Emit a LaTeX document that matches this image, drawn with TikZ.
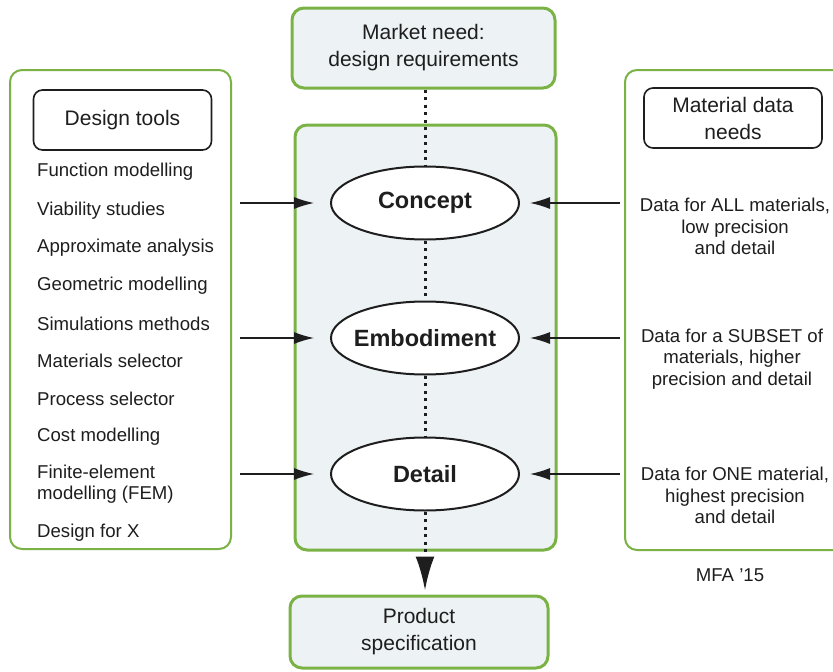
\documentclass[tikz,border=0pt]{standalone}
\usepackage{fontspec}
\setmainfont{Liberation Sans}
\usepackage{tikz}
\usetikzlibrary{arrows.meta,shapes.geometric}
\definecolor{mfagreen}{HTML}{7AB245}
\definecolor{mfapale}{HTML}{EDF2F5}
\definecolor{mfaink}{HTML}{1E1E1E}
\newcommand{\phasename}[1]{\makebox[0pt][c]{#1}}

\begin{document}
\begin{tikzpicture}[
  x=1pt, y=-1pt,
  font=\fontsize{18.6}{21.5}\selectfont, text=mfaink,
  stagebox/.style={draw=mfagreen, line width=3pt, rounded corners=12pt, fill=mfapale, inner sep=0pt},
  panel/.style={draw=mfagreen, line width=2pt, rounded corners=12pt, fill=white, inner sep=0pt},
  head/.style={draw=mfaink, line width=1.6pt, rounded corners=9pt, fill=white, align=center,
    minimum width=178pt, minimum height=60pt, inner sep=0pt, font=\fontsize{21}{27}\selectfont},
  ends/.style={stagebox, align=center, font=\fontsize{21}{27}\selectfont},
  phase/.style={ellipse, draw=mfaink, line width=2pt, fill=white, inner sep=0pt,
    minimum width=188pt, minimum height=73pt, font=\fontsize{23.5}{28}\selectfont\bfseries},
  tool/.style={anchor=west, align=left, inner sep=0pt},
  need/.style={align=center, inner sep=0pt},
  arr/.style={-{Latex[length=20pt,width=12pt]}, line width=1.3pt, draw=mfaink},
  dots/.style={line width=3pt, dash pattern=on 3pt off 4.5pt, draw=mfaink}
]
\useasboundingbox (0,0) rectangle (833,672);

% frames
\node[panel, minimum width=221pt, minimum height=479pt] (toolpanel) at (120.5,309.5) {};
\node[panel, minimum width=235pt, minimum height=480pt] (datapanel) at (742.5,310) {};
\node[stagebox, minimum width=261pt, minimum height=425pt] (process) at (425.5,337.5) {};

\node[ends, minimum width=263pt, minimum height=80pt] (market) at (423.5,48) {Market need:\\design requirements};
\node[ends, minimum width=258pt, minimum height=72pt] (spec) at (419,632) {Product\\specification};

\node[head] (toolhead) at (122.5,120) {Design tools};
\node[head] (datahead) at (733,118) {Material data\\needs};

% design stages
\node[phase] (concept) at (425,203) {\phasename{Concept}};
\node[phase] (embod) at (425,338) {\phasename{Embodiment}};
\node[phase] (detail) at (425,474) {\phasename{Detail}};

% tools list
\foreach \t/\y [count=\i] in {Function modelling/172, Viability studies/211,
    Approximate analysis/248, Geometric modelling/286, Simulations methods/324,
    Materials selector/361, Process selector/399, Cost modelling/437,
    {Finite-element\\modelling (FEM)}/484, Design for X/533}
  \node[tool] (tool\i) at (37,\y) {\t};

% data needs
\node[need] (dataall) at (735,226.5) {Data for ALL materials,\\low precision\\and detail};
\node[need] (datasub) at (732,359) {Data for a SUBSET of\\materials, higher\\precision and detail};
\node[need] (dataone) at (735,495.5) {Data for ONE material,\\highest precision\\and detail};
\node[need] (credit) at (730,575) {MFA '15};

% connectors
\coordinate (lc) at (240,203);
\coordinate (le) at (240,338);
\coordinate (ld) at (240,474);
\coordinate (rc) at (620,203);
\coordinate (re) at (620,338);
\coordinate (rd) at (620,474);

\draw[dots] (concept |- market.south) -- (concept);
\draw[dots] (concept) -- (embod);
\draw[dots] (embod) -- (detail);
\draw[dots, -{Latex[length=34pt,width=19pt]}, shorten >=4pt] (detail) -- (detail |- spec.north);

\draw[arr, shorten >=16pt] (lc) -- (concept);
\draw[arr, shorten >=16pt] (le) -- (embod);
\draw[arr, shorten >=16pt] (ld) -- (detail);
\draw[arr, shorten >=10pt] (rc) -- (concept);
\draw[arr, shorten >=10pt] (re) -- (embod);
\draw[arr, shorten >=10pt] (rd) -- (detail);
\end{tikzpicture}
\end{document}
